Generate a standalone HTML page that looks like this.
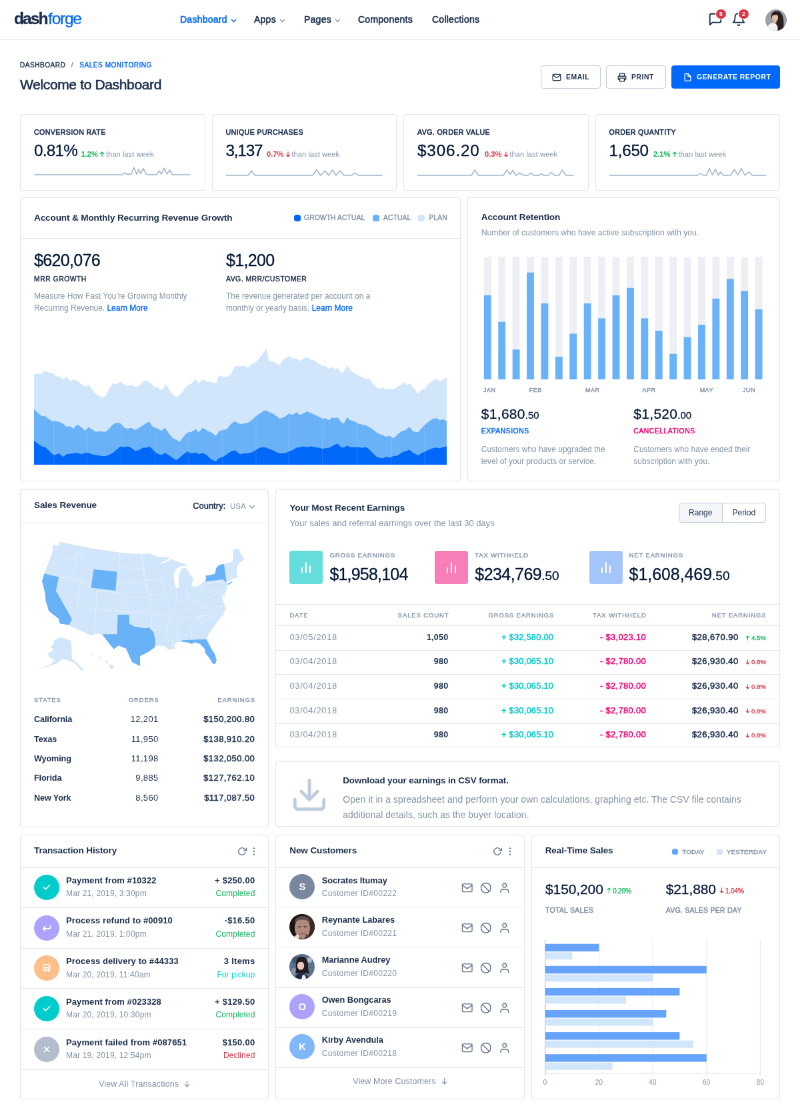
<!DOCTYPE html>
<html>
<head>
<meta charset="utf-8">
<title>DashForge</title>
<style>
*{box-sizing:border-box;margin:0;padding:0}
html,body{width:800px;height:1119px;overflow:hidden;background:#fff}
body{font-family:"Liberation Sans",sans-serif;color:#001737}
#wrap{position:absolute;left:0;top:0;width:1200px;height:1679px;transform:scale(0.666667);transform-origin:0 0;font-size:14px;will-change:transform;opacity:.9999}
.abs{position:absolute}
.card{position:absolute;background:#fff;border:1px solid rgba(72,94,144,.17);border-radius:4px}
.c2{color:#1b2e4b}.c3{color:#8392a5}
.b{font-weight:700}
.m{font-weight:400;-webkit-text-stroke:.45px currentColor}
.up{text-transform:uppercase}
.nw{white-space:nowrap}
.blue{color:#0168fa}.green{color:#10b759}.red{color:#dc3545}.teal{color:#00cccc}.pink{color:#f10075}
.hline{position:absolute;left:0;right:0;height:1px;background:rgba(72,94,144,.16)}
/* header */
#hdr{position:absolute;left:0;top:0;width:1200px;height:60px;border-bottom:1px solid rgba(72,94,144,.16);background:#fff}
#logo{position:absolute;left:21px;top:12px;font-size:24.5px;font-weight:700;letter-spacing:-1.9px;-webkit-text-stroke:.35px #1b2e4b;color:#1b2e4b;line-height:32px}
#logo span{font-weight:400;color:#0168fa;letter-spacing:-1.25px;margin-left:1.5px;-webkit-text-stroke:.3px #0168fa}
.nav{position:absolute;top:19px;font-size:14px;font-weight:400;-webkit-text-stroke:.55px currentColor;letter-spacing:.25px;color:#1b2e4b;line-height:20px;white-space:nowrap}
.nav svg{margin-left:5px;vertical-align:0}
/* stat cards */
.stat .lbl{position:absolute;left:20px;top:19px;font-size:10.6px;font-weight:400;-webkit-text-stroke:.6px currentColor;letter-spacing:.4px;color:#1b2e4b;line-height:14px;white-space:nowrap}
.stat .val{position:absolute;left:20px;top:39px;font-size:24.3px;-webkit-text-stroke:.3px #001737;line-height:30px;letter-spacing:-.9px;color:#001737;white-space:nowrap}
.stat .sub{position:absolute;top:51.5px;font-size:11.2px;line-height:14px;color:#8392a5;white-space:nowrap}
.stat .sub b{font-weight:700}
.stat svg.sp{position:absolute;left:20px;top:70.3px}
</style>
</head>
<body>
<div id="wrap">

<!-- HEADER -->
<div id="hdr">
  <div id="logo">dash<span>forge</span></div>
  <div class="nav" style="left:270px;color:#0168fa">Dashboard<svg width="9" height="6" viewBox="0 0 9 6"><path d="M1 1l3.5 3.5L8 1" fill="none" stroke="#0168fa" stroke-width="1.5"/></svg></div>
  <div class="nav" style="left:381px">Apps<svg width="9" height="6" viewBox="0 0 9 6"><path d="M1 1l3.5 3.5L8 1" fill="none" stroke="#8392a5" stroke-width="1.3"/></svg></div>
  <div class="nav" style="left:456px">Pages<svg width="9" height="6" viewBox="0 0 9 6"><path d="M1 1l3.5 3.5L8 1" fill="none" stroke="#8392a5" stroke-width="1.3"/></svg></div>
  <div class="nav" style="left:537px">Components</div>
  <div class="nav" style="left:648px">Collections</div>
  <!-- message icon -->
  <svg class="abs" style="left:1062px;top:18px" width="22" height="22" viewBox="0 0 24 24" fill="none" stroke="#1b2e4b" stroke-width="2" stroke-linecap="round" stroke-linejoin="round"><path d="M21 15a2 2 0 0 1-2 2H7l-4 4V5a2 2 0 0 1 2-2h14a2 2 0 0 1 2 2z"/></svg>
  <div class="abs" style="left:1074px;top:13.5px;width:14.5px;height:14.5px;border-radius:50%;background:#dc3545;box-shadow:0 0 0 1px #fff;color:#fff;font-size:8.5px;font-weight:700;text-align:center;line-height:14.5px">5</div>
  <!-- bell icon -->
  <svg class="abs" style="left:1097px;top:18px" width="22" height="22" viewBox="0 0 24 24" fill="none" stroke="#1b2e4b" stroke-width="2" stroke-linecap="round" stroke-linejoin="round"><path d="M18 8A6 6 0 0 0 6 8c0 7-3 9-3 9h18s-3-2-3-9"/><path d="M13.73 21a2 2 0 0 1-3.46 0"/></svg>
  <div class="abs" style="left:1108px;top:13.5px;width:14.5px;height:14.5px;border-radius:50%;background:#dc3545;box-shadow:0 0 0 1px #fff;color:#fff;font-size:8.5px;font-weight:700;text-align:center;line-height:14.5px">2</div>
  <!-- avatar -->
  <svg class="abs" style="left:1147.5px;top:13.5px" width="32" height="32" viewBox="0 0 32 32"><defs><clipPath id="avc"><circle cx="16" cy="16" r="16"/></clipPath></defs><g clip-path="url(#avc)"><rect width="32" height="32" fill="#9aa1ab"/><path d="M9 8c2-6 10-7 14-3 5 5 5 16 4 27H14c3-6 2-10-1-14-3-3-5-6-4-10z" fill="#2c1f1d"/><ellipse cx="14.500" cy="12.500" rx="4.600" ry="6" fill="#e6bda9"/><path d="M10 9c2-4 7-4 10-1-2 0-6 .5-10 1z" fill="#2c1f1d"/><path d="M2 32c0-7 4-11 9-12l5 2c3 3 3 7 2 10z" fill="#f3f1f1"/><rect x="12" y="17" width="4.500" height="4" fill="#e0b39e"/></g></svg>
</div>

<!-- PAGE TITLE -->
<div class="abs up nw" style="left:30px;top:91px;font-size:10px;letter-spacing:.55px;line-height:14px;font-weight:400;-webkit-text-stroke:.4px currentColor;color:#1b2e4b">Dashboard <span style="color:#8392a5;font-weight:400;margin:0 6px 0 5px">/</span> <span class="blue">Sales Monitoring</span></div>
<div class="abs nw" style="left:30px;top:114px;font-size:21px;font-weight:400;-webkit-text-stroke:.6px currentColor;letter-spacing:-.35px;line-height:26px;color:#1b2e4b">Welcome to Dashboard</div>


<!-- BUTTONS -->
<style>
.btn{position:absolute;top:98px;height:35px;border-radius:4px;font-size:10.4px;font-weight:700;letter-spacing:.55px;line-height:33px;white-space:nowrap;text-transform:uppercase}
.btn.w{border:1px solid #c0ccda;color:#1b2e4b;background:#fff}
.btn.p{background:#0168fa;color:#fff;border:1px solid #0168fa}
.btn svg{position:absolute;top:10px}
.btn span{position:absolute;top:0}
</style>
<div class="btn w" style="left:811px;width:90px"><svg style="left:16px" width="14" height="14" viewBox="0 0 24 24" fill="none" stroke="#1b2e4b" stroke-width="2.2" stroke-linecap="round" stroke-linejoin="round"><path d="M4 4h16c1.1 0 2 .9 2 2v12c0 1.1-.9 2-2 2H4c-1.100 0-2-.9-2-2V6c0-1.100.9-2 2-2z"/><polyline points="22,6 12,13 2,6"/></svg><span style="left:37px">Email</span></div>
<div class="btn w" style="left:909px;width:90px"><svg style="left:16px" width="14" height="14" viewBox="0 0 24 24" fill="none" stroke="#1b2e4b" stroke-width="2.2" stroke-linecap="round" stroke-linejoin="round"><polyline points="6 9 6 2 18 2 18 9"/><path d="M6 18H4a2 2 0 0 1-2-2v-5a2 2 0 0 1 2-2h16a2 2 0 0 1 2 2v5a2 2 0 0 1-2 2h-2"/><rect x="6" y="14" width="12" height="8"/></svg><span style="left:37px">Print</span></div>
<div class="btn p" style="left:1007px;width:163px"><svg style="left:17px" width="13" height="14" viewBox="0 0 24 24" fill="none" stroke="#fff" stroke-width="2.4" stroke-linecap="round" stroke-linejoin="round"><path d="M13 2H6a2 2 0 0 0-2 2v16a2 2 0 0 0 2 2h12a2 2 0 0 0 2-2V9z"/><polyline points="13 2 13 9 20 9"/></svg><span style="left:37px">Generate Report</span></div>


<!-- STAT CARDS -->
<div class="card stat" style="left:30px;top:171px;width:277.5px;height:115px">
  <div class="lbl up">Conversion Rate</div>
  <div class="val" style="letter-spacing:-.75px">0.81%</div>
  <div class="sub" style="left:90.5px"><b class="green">1.2%</b><svg width="8" height="9" viewBox="0 0 8 9" style="margin:0 2px 0 2px;vertical-align:-1px"><path d="M4 8.5V1M1 4l3-3 3 3" fill="none" stroke="#10b759" stroke-width="1.2"/></svg>than last week</div>
  <svg class="sp" width="238" height="26" viewBox="0 0 238 26"><polyline points="0.1,20.0 132.1,20.0 136.3,17.1 139.1,19.2 145.7,19.2 149.9,9.3 154.0,19.2 156.9,11.8 159.8,18.4 163.9,10.9 168.0,19.2 173.4,20.0 183.7,20.0 187.8,14.2 191.1,19.2 195.2,10.1 199.4,19.2 203.5,13.0 207.6,20.0 234.4,20.0" fill="none" stroke="#9db2c6" stroke-width="1.5" stroke-linejoin="round"/></svg>
</div>
<div class="card stat" style="left:317.5px;top:171px;width:277.5px;height:115px">
  <div class="lbl up">Unique Purchases</div>
  <div class="val" style="letter-spacing:-1.2px">3,137</div>
  <div class="sub" style="left:81.5px"><b class="red">0.7%</b><svg width="8" height="9" viewBox="0 0 8 9" style="margin:0 2px 0 2px;vertical-align:-1px"><path d="M4 .5V8M1 5l3 3 3-3" fill="none" stroke="#dc3545" stroke-width="1.2"/></svg>than last week</div>
  <svg class="sp" width="238" height="26" viewBox="0 0 238 26"><polyline points="0.0,21.0 33.0,21.0 38.2,14.3 43.5,21.0 129.8,21.0 135.8,12.8 141.8,21.0 148.5,14.3 153.8,21.0 159.8,12.8 165.0,21.0 171.0,14.3 177.0,21.0 188.2,21.0 193.5,17.3 198.8,21.0 234.8,21.0" fill="none" stroke="#9db2c6" stroke-width="1.5" stroke-linejoin="round"/></svg>
</div>
<div class="card stat" style="left:605px;top:171px;width:277.5px;height:115px">
  <div class="lbl up">Avg. Order Value</div>
  <div class="val" style="letter-spacing:.84px">$306.20</div>
  <div class="sub" style="left:121px"><b class="red">0.3%</b><svg width="8" height="9" viewBox="0 0 8 9" style="margin:0 2px 0 2px;vertical-align:-1px"><path d="M4 .5V8M1 5l3 3 3-3" fill="none" stroke="#dc3545" stroke-width="1.2"/></svg>than last week</div>
  <svg class="sp" width="238" height="26" viewBox="0 0 238 26"><polyline points="0.0,21.0 81.0,21.0 86.2,12.8 91.5,21.0 129.0,21.0 134.2,12.8 138.8,19.5 143.2,13.5 147.8,21.0 153.8,17.3 159.0,21.0 165.8,21.0 170.2,17.3 174.8,21.0 182.2,21.0 186.0,18.8 189.8,21.0 196.5,21.0 201.0,16.5 205.5,21.0 212.2,21.0 217.5,12.8 222.8,21.0 234.8,21.0" fill="none" stroke="#9db2c6" stroke-width="1.5" stroke-linejoin="round"/></svg>
</div>
<div class="card stat" style="left:892.5px;top:171px;width:277.5px;height:115px">
  <div class="lbl up">Order Quantity</div>
  <div class="val" style="letter-spacing:-.3px">1,650</div>
  <div class="sub" style="left:86.5px"><b class="green">2.1%</b><svg width="8" height="9" viewBox="0 0 8 9" style="margin:0 2px 0 2px;vertical-align:-1px"><path d="M4 8.5V1M1 4l3-3 3 3" fill="none" stroke="#10b759" stroke-width="1.2"/></svg>than last week</div>
  <svg class="sp" width="238" height="26" viewBox="0 0 238 26"><polyline points="0.0,21.0 132.0,21.0 136.5,18.0 141.0,21.0 145.5,21.0 150.0,10.5 154.5,20.3 159.0,12.0 163.5,21.0 166.5,15.8 171.0,21.0 181.5,21.0 187.5,12.0 192.8,20.3 198.0,10.5 203.2,21.0 209.2,15.8 214.5,21.0 235.5,21.0" fill="none" stroke="#9db2c6" stroke-width="1.5" stroke-linejoin="round"/></svg>
</div>

<!-- ROW 2 -->
<style>
.ch{position:absolute;left:0;right:0;top:0;border-bottom:1px solid rgba(72,94,144,.16)}
.ttl{position:absolute;left:20px;font-size:13.6px;font-weight:700;color:#1b2e4b;white-space:nowrap;line-height:20px;letter-spacing:-.15px}
.lg{position:absolute;font-size:10.3px;letter-spacing:.12px;color:#8392a5;text-transform:uppercase;white-space:nowrap;line-height:14px;-webkit-text-stroke:.4px #8392a5}
.dot{position:absolute;width:10px;height:10px;border-radius:3.5px}
.h3{position:absolute;font-size:25px;line-height:30px;color:#001737;white-space:nowrap;letter-spacing:-1px;-webkit-text-stroke:.3px #001737}
.cap{position:absolute;font-size:10.4px;letter-spacing:.5px;line-height:14px;text-transform:uppercase;white-space:nowrap;font-weight:400;-webkit-text-stroke:.45px currentColor}
.p12{position:absolute;font-size:11.95px;line-height:18px;color:#8392a5;white-space:nowrap}
</style>
<div class="card" style="left:30px;top:296px;width:660.8px;height:426px">
  <div class="ch" style="height:61px">
    <div class="ttl" style="top:20px">Account &amp; Monthly Recurring Revenue Growth</div>
    <div class="dot" style="left:410px;top:25px;background:#0168fa"></div><div class="lg" style="left:425px;top:23px">Growth Actual</div>
    <div class="dot" style="left:528px;top:25px;background:#69b2f8"></div><div class="lg" style="left:544px;top:23px">Actual</div>
    <div class="dot" style="left:596px;top:25px;background:#d1e6fa"></div><div class="lg" style="left:612.5px;top:23px">Plan</div>
  </div>
  <div class="h3" style="left:20px;top:78px;letter-spacing:-.65px">$620,076</div>
  <div class="cap c2" style="left:20px;top:115px">MRR Growth</div>
  <div class="p12" style="left:20px;top:138px">Measure How Fast You’re Growing Monthly<br>Recurring Revenue. <span class="blue" style="-webkit-text-stroke:.3px #0168fa">Learn More</span></div>
  <div class="h3" style="left:308px;top:78px;letter-spacing:-.65px">$1,200</div>
  <div class="cap c2" style="left:308px;top:115px">Avg. MRR/Customer</div>
  <div class="p12" style="left:308px;top:138px">The revenue generated per account on a<br>monthly or yearly basis. <span class="blue" style="-webkit-text-stroke:.3px #0168fa">Learn More</span></div>
  <div class="abs" style="left:0;top:152px;width:658.8px;height:260px;overflow:hidden"><svg class="abs" style="left:20px;top:60.6px" width="619.2" height="187.5" viewBox="0 0 412.8 125" preserveAspectRatio="none">
<path d="M0,125 L-0.1,33.6 L6.5,34.1 L11.2,30.7 L15.7,32.8 L19.6,33.3 L22.2,36.2 L26.2,36.7 L28.8,39.4 L32.7,36.7 L35.9,41.5 L39.3,39.4 L43.2,40.7 L47.2,44.1 L51.1,46.7 L54.3,44.6 L57.7,48.6 L61.6,53.8 L64.8,55.6 L68.2,57.7 L71.6,55.6 L74.7,49.9 L78.7,43.3 L82.6,44.1 L86.6,41.5 L90.5,44.6 L93.6,45.9 L97.0,44.6 L101.0,46.7 L104.9,45.9 L108.9,41.5 L112.8,40.7 L116.7,43.3 L120.7,47.2 L123.3,46.7 L126.4,49.9 L129.3,48.6 L132.0,44.1 L135.1,49.9 L139.0,55.1 L142.2,57.2 L145.6,55.1 L149.5,50.4 L153.5,45.1 L157.4,43.3 L161.9,38.8 L164.5,43.3 L168.7,39.4 L173.2,41.5 L177.1,42.0 L181.8,43.3 L185.0,35.4 L188.9,36.7 L192.9,36.7 L196.8,34.1 L200.7,26.2 L206.0,26.2 L209.9,25.7 L213.9,27.6 L217.8,23.6 L221.7,22.3 L225.7,17.1 L229.6,12.6 L232.2,8.4 L234.9,21.0 L238.8,21.5 L242.7,23.6 L245.9,24.9 L249.3,18.9 L251.9,18.4 L254.6,15.7 L258.5,18.4 L262.4,18.4 L265.8,21.0 L269.0,18.9 L272.9,17.1 L276.9,19.7 L280.8,20.5 L284.7,23.6 L288.7,26.2 L291.3,25.7 L295.2,28.9 L297.9,26.8 L301.0,29.4 L303.6,27.6 L307.0,32.8 L309.7,31.5 L313.1,25.7 L316.2,30.2 L320.2,32.8 L324.1,35.4 L328.0,36.7 L332.0,39.4 L334.6,38.1 L338.5,43.3 L342.5,47.2 L345.1,48.6 L349.0,47.8 L351.7,49.3 L355.6,48.6 L359.5,49.3 L363.5,46.7 L367.4,44.6 L370.0,42.0 L372.7,45.1 L375.3,43.3 L379.2,47.2 L384.0,53.8 L387.1,49.9 L391.0,48.6 L395.0,43.3 L398.9,40.7 L402.9,38.8 L405.5,42.0 L409.4,39.4 L412.8,37.3 L412.8,125 Z" fill="#d1e6fa"/>
<path d="M0,125 L-0.1,68.8 L3.9,73.0 L7.8,76.1 L10.4,75.6 L14.4,78.7 L18.3,81.4 L20.9,80.8 L24.9,81.9 L28.8,83.5 L32.7,86.6 L35.9,86.1 L39.3,88.7 L43.2,84.5 L47.2,87.1 L51.1,90.6 L54.3,87.1 L57.7,89.2 L61.6,91.9 L64.8,91.3 L68.2,91.3 L71.6,91.9 L74.7,89.2 L78.7,84.5 L82.6,82.7 L86.6,83.5 L90.5,87.9 L93.6,88.7 L97.0,87.9 L101.0,89.8 L104.9,87.9 L108.9,85.3 L112.8,82.7 L115.4,81.9 L118.0,86.1 L121.5,87.9 L124.6,89.2 L127.2,90.6 L131.2,87.9 L135.1,94.0 L139.0,98.4 L142.2,99.7 L145.6,101.8 L149.5,96.6 L153.5,92.4 L157.4,91.9 L161.9,89.2 L164.5,92.4 L168.7,87.9 L173.2,90.6 L177.1,92.4 L181.8,95.8 L185.0,91.3 L188.9,89.8 L192.9,89.2 L196.8,84.0 L200.7,81.4 L206.0,84.0 L209.9,83.5 L213.9,82.7 L217.8,80.1 L221.7,76.1 L225.7,73.5 L229.6,70.9 L232.2,70.3 L234.9,72.2 L238.8,73.5 L242.7,76.1 L245.9,78.7 L249.3,77.4 L251.9,76.1 L254.6,73.5 L258.5,74.8 L262.4,72.2 L265.8,74.8 L269.0,73.5 L272.9,71.4 L276.9,73.0 L280.8,74.8 L284.7,76.6 L288.7,78.7 L291.3,78.2 L295.2,80.1 L297.9,77.4 L301.0,78.2 L303.6,77.4 L307.0,81.9 L309.7,83.5 L313.1,77.4 L316.2,80.1 L320.2,81.4 L324.1,83.5 L328.0,84.5 L332.0,85.3 L334.6,86.6 L338.5,89.2 L342.5,92.4 L345.1,94.0 L349.0,95.0 L351.7,96.6 L355.6,95.8 L359.5,98.4 L363.5,94.5 L367.4,91.3 L370.0,90.6 L372.7,89.2 L375.3,86.6 L379.2,91.3 L384.0,92.4 L387.1,88.7 L391.0,84.5 L395.0,81.4 L398.9,78.7 L402.9,78.2 L405.5,80.1 L409.4,79.3 L412.8,81.4 L412.8,125 Z" fill="#69b2f8"/>
<path d="M0,125 L-0.1,100.5 L3.9,103.7 L7.8,106.3 L11.2,107.1 L14.4,110.2 L18.3,114.2 L20.9,115.0 L24.9,113.4 L28.8,116.8 L32.7,114.2 L39.3,113.4 L43.2,112.9 L47.2,114.2 L51.1,112.9 L54.3,112.9 L57.7,114.2 L61.6,115.0 L68.2,116.0 L71.6,116.0 L74.7,115.0 L78.7,112.9 L82.6,109.7 L86.6,106.3 L90.5,107.1 L93.6,106.3 L97.0,107.6 L101.0,110.8 L104.9,110.2 L108.9,107.6 L112.8,107.6 L115.4,106.3 L118.0,108.9 L121.5,112.3 L124.6,114.2 L127.2,115.0 L131.2,112.9 L135.1,115.5 L139.0,118.1 L142.2,120.2 L145.6,117.6 L149.5,114.2 L153.5,111.5 L157.4,113.4 L161.9,112.3 L164.5,114.2 L168.7,112.9 L173.2,115.5 L177.1,119.4 L181.8,121.3 L185.0,118.1 L188.9,116.8 L192.9,114.2 L196.8,111.5 L200.7,110.2 L206.0,114.2 L209.9,113.4 L213.9,113.4 L217.8,112.3 L221.7,110.2 L225.7,107.6 L229.6,107.1 L232.2,107.6 L234.9,108.9 L238.8,110.2 L242.7,112.3 L245.9,113.4 L249.3,113.4 L251.9,112.9 L254.6,111.5 L258.5,110.2 L262.4,107.6 L265.8,107.1 L269.0,106.3 L272.9,107.1 L276.9,106.3 L280.8,107.1 L284.7,107.6 L288.7,108.9 L291.3,108.1 L295.2,107.6 L297.9,106.3 L301.0,104.5 L303.6,103.7 L307.0,107.1 L309.7,107.6 L313.1,105.5 L316.2,107.1 L320.2,107.1 L324.1,107.1 L328.0,107.6 L332.0,107.1 L334.6,108.9 L338.5,112.9 L342.5,116.8 L345.1,117.6 L349.0,118.1 L351.7,116.8 L355.6,117.6 L359.5,116.0 L363.5,115.5 L367.4,112.9 L370.0,111.5 L372.7,110.8 L375.3,109.7 L379.2,112.9 L384.0,115.5 L387.1,113.4 L391.0,111.5 L395.0,109.7 L398.9,108.1 L402.9,107.6 L405.5,108.1 L409.4,107.1 L412.8,106.3 L412.8,125 Z" fill="#0168fa"/>
<g stroke="#fff" stroke-opacity=".18" stroke-width=".5"><path d="M20,0V125M52.8,0V125M87,0V125M121,0V125M154.5,0V125M188.5,0V125M222,0V125M254.5,0V125M288.5,0V125M323.5,0V125M357.5,0V125M390.5,0V125"/></g>
</svg></div>
</div>
<div class="card" style="left:700.8px;top:296px;width:469.2px;height:426px">
  <div class="ttl" style="top:19px">Account Retention</div>
  <div class="p12" style="left:20px;top:43px;font-size:12.17px">Number of customers who have active subscription with you.</div>
  <svg class="abs" style="left:-1px;top:88.3px" width="469.2" height="184.2" viewBox="0 0 312.8 122" preserveAspectRatio="none"><rect x="16.60" y="0" width="7.2" height="122" fill="#edeff4"/><rect x="16.60" y="38.3" width="7.2" height="83.7" fill="#69b2f8"/><rect x="30.87" y="0" width="7.2" height="122" fill="#edeff4"/><rect x="30.87" y="64.7" width="7.2" height="57.3" fill="#69b2f8"/><rect x="45.15" y="0" width="7.2" height="122" fill="#edeff4"/><rect x="45.15" y="92.2" width="7.2" height="29.8" fill="#69b2f8"/><rect x="59.42" y="0" width="7.2" height="122" fill="#edeff4"/><rect x="59.42" y="15.7" width="7.2" height="106.3" fill="#69b2f8"/><rect x="73.70" y="0" width="7.2" height="122" fill="#edeff4"/><rect x="73.70" y="46.4" width="7.2" height="75.6" fill="#69b2f8"/><rect x="87.97" y="0" width="7.2" height="122" fill="#edeff4"/><rect x="87.97" y="99.4" width="7.2" height="22.6" fill="#69b2f8"/><rect x="102.24" y="0" width="7.2" height="122" fill="#edeff4"/><rect x="102.24" y="76.5" width="7.2" height="45.5" fill="#69b2f8"/><rect x="116.52" y="0" width="7.2" height="122" fill="#edeff4"/><rect x="116.52" y="46.4" width="7.2" height="75.6" fill="#69b2f8"/><rect x="130.79" y="0" width="7.2" height="122" fill="#edeff4"/><rect x="130.79" y="61.2" width="7.2" height="60.8" fill="#69b2f8"/><rect x="145.07" y="0" width="7.2" height="122" fill="#edeff4"/><rect x="145.07" y="38.3" width="7.2" height="83.7" fill="#69b2f8"/><rect x="159.34" y="0" width="7.2" height="122" fill="#edeff4"/><rect x="159.34" y="31.0" width="7.2" height="91.0" fill="#69b2f8"/><rect x="173.61" y="0" width="7.2" height="122" fill="#edeff4"/><rect x="173.61" y="61.2" width="7.2" height="60.8" fill="#69b2f8"/><rect x="187.89" y="0" width="7.2" height="122" fill="#edeff4"/><rect x="187.89" y="73.6" width="7.2" height="48.4" fill="#69b2f8"/><rect x="202.16" y="0" width="7.2" height="122" fill="#edeff4"/><rect x="202.16" y="96.5" width="7.2" height="25.5" fill="#69b2f8"/><rect x="216.44" y="0" width="7.2" height="122" fill="#edeff4"/><rect x="216.44" y="79.9" width="7.2" height="42.1" fill="#69b2f8"/><rect x="230.71" y="0" width="7.2" height="122" fill="#edeff4"/><rect x="230.71" y="67.6" width="7.2" height="54.4" fill="#69b2f8"/><rect x="244.98" y="0" width="7.2" height="122" fill="#edeff4"/><rect x="244.98" y="41.6" width="7.2" height="80.4" fill="#69b2f8"/><rect x="259.26" y="0" width="7.2" height="122" fill="#edeff4"/><rect x="259.26" y="22.1" width="7.2" height="99.9" fill="#69b2f8"/><rect x="273.53" y="0" width="7.2" height="122" fill="#edeff4"/><rect x="273.53" y="34.0" width="7.2" height="88.0" fill="#69b2f8"/><rect x="287.81" y="0" width="7.2" height="122" fill="#edeff4"/><rect x="287.81" y="52.3" width="7.2" height="69.7" fill="#69b2f8"/></svg>
  <div class="abs nw" style="left:2.5px;width:60px;text-align:center;top:281.2px;font-size:9px;letter-spacing:.5px;color:#8392a5;line-height:14px;-webkit-text-stroke:.4px #8392a5">JAN</div><div class="abs nw" style="left:71.5px;width:60px;text-align:center;top:281.2px;font-size:9px;letter-spacing:.5px;color:#8392a5;line-height:14px;-webkit-text-stroke:.4px #8392a5">FEB</div><div class="abs nw" style="left:157.0px;width:60px;text-align:center;top:281.2px;font-size:9px;letter-spacing:.5px;color:#8392a5;line-height:14px;-webkit-text-stroke:.4px #8392a5">MAR</div><div class="abs nw" style="left:241.7px;width:60px;text-align:center;top:281.2px;font-size:9px;letter-spacing:.5px;color:#8392a5;line-height:14px;-webkit-text-stroke:.4px #8392a5">APR</div><div class="abs nw" style="left:328.0px;width:60px;text-align:center;top:281.2px;font-size:9px;letter-spacing:.5px;color:#8392a5;line-height:14px;-webkit-text-stroke:.4px #8392a5">MAY</div><div class="abs nw" style="left:391.7px;width:60px;text-align:center;top:281.2px;font-size:9px;letter-spacing:.5px;color:#8392a5;line-height:14px;-webkit-text-stroke:.4px #8392a5">JUN</div>
  <div class="h3" style="left:20px;top:309px;font-size:21px;letter-spacing:.3px">$1,680<span style="font-size:15px;letter-spacing:0">.50</span></div>
  <div class="cap blue" style="left:20px;top:343px">Expansions</div>
  <div class="p12" style="left:20px;top:368px">Customers who have upgraded the<br>level of your products or service.</div>
  <div class="h3" style="left:248.5px;top:309px;font-size:21px;letter-spacing:.3px">$1,520<span style="font-size:15px;letter-spacing:0">.00</span></div>
  <div class="cap pink" style="left:248.5px;top:343px">Cancellations</div>
  <div class="p12" style="left:248.5px;top:368px">Customers who have ended their<br>subscription with you.</div>
</div>


<!-- ROW 3 -->
<style>
.th{position:absolute;font-size:9.4px;letter-spacing:.95px;color:#8392a5;text-transform:uppercase;white-space:nowrap;line-height:14px;-webkit-text-stroke:.35px #8392a5}
</style>
<div class="card" style="left:30px;top:733.5px;width:373.3px;height:507px;overflow:hidden">
  <div class="ch" style="height:50px">
    <div class="ttl" style="top:13.5px">Sales Revenue</div>
    <div class="abs nw c2 m" style="right:64px;top:14.5px;font-size:12.8px;line-height:20px;letter-spacing:.1px">Country:</div><div class="abs nw c3" style="left:314px;top:14.5px;font-size:11.6px;line-height:20px">USA</div>
    <svg class="abs" style="right:19px;top:22px" width="10" height="7" viewBox="0 0 10 7"><path d="M1 1l4 4 4-4" fill="none" stroke="#8392a5" stroke-width="1.3"/></svg>
  </div>
  <svg class="abs" style="left:14.0px;top:60.5px" width="345" height="225" viewBox="30 530 230 150"><path d="M52.5,543.5 L53.7,545.0 L58.8,545.6 L59.7,541.7 L78.0,545.7 L99.0,549.5 L120.0,552.5 L139.9,554.0 L140.0,554.0 L148.7,553.7 L149.3,552.2 L150.2,553.7 L153.8,555.2 L156.9,556.2 L162.5,557.5 L165.6,557.2 L170.0,557.0 L166.2,560.0 L162.5,561.9 L159.0,564.0 L161.9,563.5 L166.2,561.9 L170.6,560.0 L172.2,558.8 L175.0,560.6 L179.4,562.5 L183.1,563.5 L185.6,564.0 L187.5,565.0 L185.0,565.8 L181.9,566.0 L179.4,566.9 L177.5,567.9 L175.6,569.5 L174.5,571.9 L173.8,575.0 L174.0,580.0 L174.8,583.8 L176.5,588.1 L178.5,587.5 L179.4,586.2 L178.5,581.2 L178.8,576.2 L180.0,571.9 L181.9,568.8 L184.0,567.5 L186.2,568.5 L188.1,570.6 L189.8,574.0 L190.0,576.2 L191.5,575.0 L193.1,577.8 L192.9,581.2 L191.2,584.4 L191.9,585.6 L194.4,586.9 L196.9,586.5 L200.0,584.8 L202.5,582.5 L205.0,581.2 L206.2,578.1 L205.6,575.6 L211.2,574.8 L215.0,573.5 L216.2,568.1 L218.8,565.0 L223.8,563.8 L230.0,562.5 L232.5,561.2 L233.5,550.0 L236.2,548.5 L239.0,549.0 L240.6,553.8 L244.4,558.1 L242.5,560.6 L239.4,562.5 L237.5,565.6 L236.2,569.4 L237.5,571.9 L236.2,575.0 L238.8,576.2 L235.0,577.8 L231.2,579.4 L228.1,581.0 L226.5,582.2 L227.2,586.2 L226.5,590.0 L225.0,593.1 L224.4,597.5 L222.2,593.0 L222.8,600.5 L224.0,603.5 L225.8,608.7 L223.2,614.0 L218.7,620.0 L214.2,626.0 L209.0,633.5 L206.7,638.0 L211.2,648.5 L215.0,654.5 L216.5,660.5 L215.0,664.2 L212.7,663.5 L209.0,657.5 L205.2,653.0 L204.5,648.5 L200.0,644.0 L194.7,642.2 L191.7,644.0 L188.0,642.5 L182.0,641.7 L176.0,642.5 L173.7,645.5 L176.0,649.2 L172.2,648.5 L168.5,650.0 L164.7,646.2 L155.7,645.5 L155.0,647.0 L149.0,651.5 L140.0,656.0 L139.9,657.5 L140.2,665.7 L139.5,665.7 L132.0,662.0 L126.0,648.5 L118.5,645.5 L114.0,649.2 L109.5,644.0 L102.0,634.2 L94.5,633.5 L94.5,635.0 L90.0,635.0 L70.5,626.0 L69.0,624.8 L60.0,623.7 L58.5,618.5 L52.5,614.0 L48.7,611.0 L45.7,600.5 L45.0,593.0 L43.5,587.0 L42.0,581.0 L44.2,573.5 L45.0,571.2 L49.5,560.0 L52.5,552.5Z" fill="#d1e6fa"/><path d="M54.0,640.2 L60.7,637.2 L71.2,641.0 L72.0,659.0 L76.5,662.0 L84.0,670.2 L81.7,671.0 L75.0,663.5 L69.0,660.5 L62.2,659.0 L57.0,663.5 L45.0,667.2 L39.0,668.7 L51.0,664.2 L54.7,660.5 L48.7,656.7 L48.0,653.0 L54.0,650.0 L50.2,646.2 L54.0,644.0Z" fill="#d1e6fa"/><path d="M91.5,653.7 L93.0,653.7 L93.0,655.2 L91.5,655.2Z" fill="#d1e6fa"/><path d="M98.2,656.7 L100.5,657.2 L100.2,658.7 L98.4,658.4Z" fill="#d1e6fa"/><path d="M105.0,660.2 L107.7,660.8 L108.0,662.6 L105.6,662.3Z" fill="#d1e6fa"/><path d="M109.5,664.2 L112.5,665.0 L114.0,667.7 L111.7,669.5 L109.5,667.2Z" fill="#d1e6fa"/><path d="M53.7,557.0 L64.5,559.2 L75.0,558.5 M78.0,545.7 L75.0,558.5 L75.7,565.2 L70.5,578.0 M45.0,571.2 L70.5,578.0 L91.5,581.7 M80.2,546.5 L82.5,560.0 L87.0,569.7 L93.7,570.5 M91.5,581.7 L90.7,587.7 M58.8,577.2 L80.2,581.7 L77.2,606.5 M80.2,581.7 L91.0,587.7 M96.7,590.7 L94.5,635.0 M77.2,606.5 L72.0,619.2 M77.2,606.5 L123.0,612.2 M96.7,590.7 L123.0,593.0 L122.2,611.7 M120.0,552.5 L118.5,567.5 L117.0,571.7 M118.5,567.5 L144.0,568.7 M117.0,581.7 L135.0,582.5 L144.0,584.0 L148.5,590.0 L150.0,596.7 M123.0,597.2 L148.5,597.8 M122.2,611.7 L150.0,612.5 M141.7,554.0 L144.0,568.7 L145.5,581.7 M141.5,554.0 L144.2,579.5 L146.0,581.7 M144.2,579.5 L162.5,580.2 M146.0,581.7 L147.5,594.5 L151.2,596.7 M147.5,594.5 L162.5,594.5 M150.5,596.7 L151.2,614.7 L152.0,628.2 M151.2,614.7 L170.0,613.7 M152.0,628.2 L153.5,632.0 M153.5,630.2 L167.0,629.7 M155.7,566.0 L157.2,573.5 L162.5,580.2 L164.7,587.0 L162.5,594.5 L167.7,605.0 L171.5,611.7 L170.0,613.7 L168.5,620.0 L167.0,629.7 L164.7,638.0 L172.2,639.5 L172.2,648.5 M164.7,587.0 L176.0,587.7 M176.7,587.7 L176.0,605.0 L171.5,611.7 M186.8,585.8 L187.7,599.7 L176.0,605.0 M187.7,599.7 L197.0,602.7 L203.0,596.0 L202.2,584.7 M171.5,611.7 L200.0,608.0 L225.5,605.7 M170.0,620.0 L200.0,616.2 L224.0,611.7 M177.5,620.0 L178.2,641.0 M188.3,619.2 L191.7,635.0 L191.7,641.7 M197.0,617.7 L206.7,629.0 L209.0,633.5 M197.0,617.7 L206.0,615.5 L218.7,620.0 M202.2,584.7 L224.0,581.0 M203.0,593.0 L223.2,590.0 L226.2,587.0 M200.0,608.0 L206.0,602.0 L212.0,594.5 L221.7,593.0 M228.1,562.9 L228.8,573.1 M232.5,561.2 L234.0,567.5 L236.2,569.4 M224.8,573.1 L236.9,571.9 M225.4,577.2 L235.0,577.8 M231.0,574.4 L231.2,579.4" fill="none" stroke="#fff" stroke-width=".4" stroke-opacity=".6"/><path d="M44.2,573.5 L58.8,577.2 L55.8,590.7 L72.0,619.2 L69.0,624.8 L60.0,623.7 L58.5,618.5 L52.5,614.0 L48.7,611.0 L45.7,600.5 L45.0,593.0 L43.5,587.0 L42.0,581.0Z" fill="#69b2f8"/><path d="M93.7,569.3 L117.0,571.7 L115.5,590.7 L91.0,587.7Z" fill="#69b2f8"/><path d="M117.7,614.7 L129.0,614.7 L129.3,623.7 L135.0,626.7 L144.0,628.2 L150.0,627.5 L149.7,628.2 L153.5,632.0 L155.4,641.0 L155.0,647.0 L149.0,651.5 L140.0,656.0 L139.9,657.5 L140.2,665.7 L139.5,665.7 L132.0,662.0 L126.0,648.5 L118.5,645.5 L114.0,649.2 L109.5,644.0 L102.0,634.2 L117.0,634.2Z" fill="#69b2f8"/><path d="M182.0,640.2 L206.0,639.2 L211.2,648.5 L215.0,654.5 L216.5,660.5 L215.0,664.2 L212.7,663.5 L209.0,657.5 L205.2,653.0 L204.5,648.5 L200.0,644.0 L194.7,642.2 L191.7,644.0 L188.0,642.5 L182.0,641.7Z" fill="#69b2f8"/><path d="M205.0,581.5 L206.2,578.1 L205.6,575.6 L211.2,574.8 L215.0,573.5 L216.2,568.1 L218.8,565.0 L223.8,563.8 L224.8,570.0 L225.6,576.2 L226.5,582.2 L225.0,581.2 L223.1,579.4Z" fill="#69b2f8"/><path d="M226.9,584.0 L231.9,581.5 L232.5,582.1 L228.1,584.9Z" fill="#69b2f8"/></svg>
  <div class="th" style="left:20px;top:308.5px">States</div>
  <div class="th" style="right:163.7px;top:308.5px">Orders</div>
  <div class="th" style="right:19.4px;top:308.5px">Earnings</div>
  <div class="abs nw b c2" style="left:20px;top:334.2px;font-size:12.6px;line-height:20px;letter-spacing:-.1px">California</div><div class="abs nw c2" style="right:164.7px;top:334.2px;font-size:13px;line-height:20px;letter-spacing:.35px">12,201</div><div class="abs nw c2 m" style="right:20.1px;top:334.2px;font-size:13px;line-height:20px;letter-spacing:.43px">$150,200.80</div><div class="abs nw b c2" style="left:20px;top:364.0px;font-size:12.6px;line-height:20px;letter-spacing:-.1px">Texas</div><div class="abs nw c2" style="right:164.7px;top:364.0px;font-size:13px;line-height:20px;letter-spacing:.35px">11,950</div><div class="abs nw c2 m" style="right:20.1px;top:364.0px;font-size:13px;line-height:20px;letter-spacing:.43px">$138,910.20</div><div class="abs nw b c2" style="left:20px;top:393.7px;font-size:12.6px;line-height:20px;letter-spacing:-.1px">Wyoming</div><div class="abs nw c2" style="right:164.7px;top:393.7px;font-size:13px;line-height:20px;letter-spacing:.35px">11,198</div><div class="abs nw c2 m" style="right:20.1px;top:393.7px;font-size:13px;line-height:20px;letter-spacing:.43px">$132,050.00</div><div class="abs nw b c2" style="left:20px;top:422.9px;font-size:12.6px;line-height:20px;letter-spacing:-.1px">Florida</div><div class="abs nw c2" style="right:164.7px;top:422.9px;font-size:13px;line-height:20px;letter-spacing:.35px">9,885</div><div class="abs nw c2 m" style="right:20.1px;top:422.9px;font-size:13px;line-height:20px;letter-spacing:.43px">$127,762.10</div><div class="abs nw b c2" style="left:20px;top:452.7px;font-size:12.6px;line-height:20px;letter-spacing:-.1px">New York</div><div class="abs nw c2" style="right:164.7px;top:452.7px;font-size:13px;line-height:20px;letter-spacing:.35px">8,560</div><div class="abs nw c2 m" style="right:20.1px;top:452.7px;font-size:13px;line-height:20px;letter-spacing:.43px">$117,087.50</div>
</div>

<div class="card" style="left:413.3px;top:733.5px;width:756.7px;height:387.5px;overflow:hidden">
  <div class="ttl" style="left:20.1px;top:17.2px">Your Most Recent Earnings</div>
  <div class="p12" style="left:20.1px;top:41.2px;font-size:13px">Your sales and referral earnings over the last 30 days</div>
  <div class="abs" style="left:603.4px;top:19.0px;width:131.2px;height:30.7px;border:1px solid #c0ccda;border-radius:4px;overflow:hidden;font-size:12px;color:#1b2e4b;line-height:28.7px">
    <div class="abs" style="left:0;top:0;bottom:0;width:65.2px;background:#f5f6fa;border-right:1px solid #c0ccda;text-align:center">Range</div>
    <div class="abs" style="left:65.2px;top:0;bottom:0;right:0;text-align:center">Period</div>
  </div>
  <div class="abs" style="left:20.1px;top:91.1px;width:50px;height:50px;border-radius:4px;background:#66dddd"><svg style="position:absolute;left:16px;top:15px" width="18" height="20" viewBox="0 0 18 20"><path d="M3 17.500V11M9 17.500V3M15 17.500V8" fill="none" stroke="#fff" stroke-width="2" stroke-linecap="round"/></svg></div>
  <div class="th" style="left:80.1px;top:91.4px;font-size:9.6px;letter-spacing:.8px;-webkit-text-stroke:.4px #8392a5">Gross Earnings</div>
  <div class="h3" style="left:80.1px;top:111.8px;letter-spacing:-.8px">$1,958,104</div>
  <div class="abs" style="left:238.0px;top:91.1px;width:50px;height:50px;border-radius:4px;background:#f77eb9"><svg style="position:absolute;left:16px;top:15px" width="18" height="20" viewBox="0 0 18 20"><path d="M3 17.500V11M9 17.500V3M15 17.500V8" fill="none" stroke="#fff" stroke-width="2" stroke-linecap="round"/></svg></div>
  <div class="th" style="left:298.0px;top:91.4px;font-size:9.6px;letter-spacing:.8px;-webkit-text-stroke:.4px #8392a5">Tax Withheld</div>
  <div class="h3" style="left:298.0px;top:111.8px;letter-spacing:-.55px">$234,769<span style="font-size:19px;letter-spacing:0">.50</span></div>
  <div class="abs" style="left:469.3px;top:91.1px;width:50px;height:50px;border-radius:4px;background:#a4c5fa"><svg style="position:absolute;left:16px;top:15px" width="18" height="20" viewBox="0 0 18 20"><path d="M3 17.500V11M9 17.500V3M15 17.500V8" fill="none" stroke="#fff" stroke-width="2" stroke-linecap="round"/></svg></div>
  <div class="th" style="left:529.3px;top:91.4px;font-size:9.6px;letter-spacing:.8px;-webkit-text-stroke:.4px #8392a5">Net Earnings</div>
  <div class="h3" style="left:529.3px;top:111.8px;letter-spacing:-.07px">$1,608,469<span style="font-size:19px;letter-spacing:0">.50</span></div>
  <div class="hline" style="top:171.2px"></div><div class="hline" style="top:203.8px"></div><div class="hline" style="top:240.3px"></div><div class="hline" style="top:276.9px"></div><div class="hline" style="top:313.5px"></div><div class="hline" style="top:350.1px"></div>
  <div class="th" style="left:20.1px;top:181.8px">Date</div>
  <div class="th" style="right:495.6px;top:181.8px">Sales Count</div>
  <div class="th" style="right:337.8px;top:181.8px">Gross Earnings</div>
  <div class="th" style="right:199.3px;top:181.8px">Tax Withheld</div>
  <div class="th" style="right:19.5px;top:181.8px">Net Earnings</div>
  <div class="abs nw c3" style="left:20.1px;top:211.9px;font-size:13px;line-height:20px;letter-spacing:.65px">03/05/2018</div>
<div class="abs nw b c2" style="right:496.6px;top:211.9px;font-size:12.6px;line-height:20px;letter-spacing:.2px">1,050</div>
<div class="abs nw m" style="right:338.8px;top:211.9px;font-size:13px;line-height:20px;letter-spacing:.16px;color:#00cccc">+ $32,580.00</div>
<div class="abs nw m" style="right:200.0px;top:211.9px;font-size:13px;line-height:20px;letter-spacing:.3px;color:#f10075">- $3,023.10</div>
<div class="abs nw m c2" style="-webkit-text-stroke:.55px #1b2e4b;right:61.4px;top:211.9px;font-size:13px;line-height:20px;letter-spacing:.46px">$28,670.90</div>
<div class="abs nw" style="right:20.2px;top:212.9px;font-size:9.6px;line-height:20px;color:#10b759;-webkit-text-stroke:.3px #10b759"><svg width="7" height="8" viewBox="0 0 7 8" style="margin-right:2px;vertical-align:-.5px"><path d="M3.500 7.500V1M1 3.500l2.500-2.500 2.500 2.500" fill="none" stroke="#10b759" stroke-width="1.1"/></svg>4.5%</div>
<div class="abs nw c3" style="left:20.1px;top:247.9px;font-size:13px;line-height:20px;letter-spacing:.65px">03/04/2018</div>
<div class="abs nw b c2" style="right:496.6px;top:247.9px;font-size:12.6px;line-height:20px;letter-spacing:.2px">980</div>
<div class="abs nw m" style="right:338.8px;top:247.9px;font-size:13px;line-height:20px;letter-spacing:.16px;color:#00cccc">+ $30,065.10</div>
<div class="abs nw m" style="right:200.0px;top:247.9px;font-size:13px;line-height:20px;letter-spacing:.3px;color:#f10075">- $2,780.00</div>
<div class="abs nw m c2" style="-webkit-text-stroke:.55px #1b2e4b;right:61.4px;top:247.9px;font-size:13px;line-height:20px;letter-spacing:.46px">$26,930.40</div>
<div class="abs nw" style="right:20.2px;top:248.9px;font-size:9.6px;line-height:20px;color:#dc3545;-webkit-text-stroke:.3px #dc3545"><svg width="7" height="8" viewBox="0 0 7 8" style="margin-right:2px;vertical-align:-.5px"><path d="M3.500 .5V7M1 4.500l2.500 2.500 2.500-2.500" fill="none" stroke="#dc3545" stroke-width="1.1"/></svg>0.8%</div>
<div class="abs nw c3" style="left:20.1px;top:284.5px;font-size:13px;line-height:20px;letter-spacing:.65px">03/04/2018</div>
<div class="abs nw b c2" style="right:496.6px;top:284.5px;font-size:12.6px;line-height:20px;letter-spacing:.2px">980</div>
<div class="abs nw m" style="right:338.8px;top:284.5px;font-size:13px;line-height:20px;letter-spacing:.16px;color:#00cccc">+ $30,065.10</div>
<div class="abs nw m" style="right:200.0px;top:284.5px;font-size:13px;line-height:20px;letter-spacing:.3px;color:#f10075">- $2,780.00</div>
<div class="abs nw m c2" style="-webkit-text-stroke:.55px #1b2e4b;right:61.4px;top:284.5px;font-size:13px;line-height:20px;letter-spacing:.46px">$26,930.40</div>
<div class="abs nw" style="right:20.2px;top:285.5px;font-size:9.6px;line-height:20px;color:#dc3545;-webkit-text-stroke:.3px #dc3545"><svg width="7" height="8" viewBox="0 0 7 8" style="margin-right:2px;vertical-align:-.5px"><path d="M3.500 .5V7M1 4.500l2.500 2.500 2.500-2.500" fill="none" stroke="#dc3545" stroke-width="1.1"/></svg>0.8%</div>
<div class="abs nw c3" style="left:20.1px;top:321.1px;font-size:13px;line-height:20px;letter-spacing:.65px">03/04/2018</div>
<div class="abs nw b c2" style="right:496.6px;top:321.1px;font-size:12.6px;line-height:20px;letter-spacing:.2px">980</div>
<div class="abs nw m" style="right:338.8px;top:321.1px;font-size:13px;line-height:20px;letter-spacing:.16px;color:#00cccc">+ $30,065.10</div>
<div class="abs nw m" style="right:200.0px;top:321.1px;font-size:13px;line-height:20px;letter-spacing:.3px;color:#f10075">- $2,780.00</div>
<div class="abs nw m c2" style="-webkit-text-stroke:.55px #1b2e4b;right:61.4px;top:321.1px;font-size:13px;line-height:20px;letter-spacing:.46px">$26,930.40</div>
<div class="abs nw" style="right:20.2px;top:322.1px;font-size:9.6px;line-height:20px;color:#dc3545;-webkit-text-stroke:.3px #dc3545"><svg width="7" height="8" viewBox="0 0 7 8" style="margin-right:2px;vertical-align:-.5px"><path d="M3.500 .5V7M1 4.500l2.500 2.500 2.500-2.500" fill="none" stroke="#dc3545" stroke-width="1.1"/></svg>0.8%</div>
<div class="abs nw c3" style="left:20.1px;top:357.6px;font-size:13px;line-height:20px;letter-spacing:.65px">03/04/2018</div>
<div class="abs nw b c2" style="right:496.6px;top:357.6px;font-size:12.6px;line-height:20px;letter-spacing:.2px">980</div>
<div class="abs nw m" style="right:338.8px;top:357.6px;font-size:13px;line-height:20px;letter-spacing:.16px;color:#00cccc">+ $30,065.10</div>
<div class="abs nw m" style="right:200.0px;top:357.6px;font-size:13px;line-height:20px;letter-spacing:.3px;color:#f10075">- $2,780.00</div>
<div class="abs nw m c2" style="-webkit-text-stroke:.55px #1b2e4b;right:61.4px;top:357.6px;font-size:13px;line-height:20px;letter-spacing:.46px">$26,930.40</div>
<div class="abs nw" style="right:20.2px;top:358.6px;font-size:9.6px;line-height:20px;color:#dc3545;-webkit-text-stroke:.3px #dc3545"><svg width="7" height="8" viewBox="0 0 7 8" style="margin-right:2px;vertical-align:-.5px"><path d="M3.500 .5V7M1 4.500l2.500 2.500 2.500-2.500" fill="none" stroke="#dc3545" stroke-width="1.1"/></svg>0.8%</div>

</div>
<div class="card" style="left:413.3px;top:1142.2px;width:756.7px;height:98.3px">
  <svg class="abs" style="left:20.7px;top:20.2px" width="58" height="58" viewBox="0 0 24 24" fill="none" stroke="#bfccdc" stroke-width="2" stroke-linecap="round" stroke-linejoin="round"><path d="M21 15v4a2 2 0 0 1-2 2H5a2 2 0 0 1-2-2v-4"/><polyline points="7 10 12 15 17 10"/><line x1="12" y1="15" x2="12" y2="3"/></svg>
  <div class="abs nw b c2" style="left:100.0px;top:17.5px;font-size:13.4px;line-height:20px;letter-spacing:-.1px">Download your earnings in CSV format.</div>
  <div class="abs nw c3" style="left:100.0px;top:45.3px;font-size:13.8px;line-height:23px;letter-spacing:.1px">Open it in a spreadsheet and perform your own calculations, graphing etc. The CSV file contains<br>additional details, such as the buyer location.</div>
</div>


<!-- ROW 4 -->
<div class="card" style="left:30px;top:1251.9px;width:373.3px;height:396.8px;overflow:hidden">
  <div class="ch" style="height:49px"><div class="ttl" style="top:13.5px">Transaction History</div><svg class="abs" style="left:324.7px;top:17px" width="14" height="14" viewBox="0 0 24 24" fill="none" stroke="#70819a" stroke-width="2.7" stroke-linecap="round" stroke-linejoin="round"><polyline points="23 4 23 10 17 10"/><path d="M20.490 15a9 9 0 1 1-2.120-9.360L23 10"/></svg><svg class="abs" style="left:348.35px;top:17px" width="4" height="14" viewBox="0 0 4 14"><circle cx="2" cy="2.500" r="1.350" fill="#70819a"/><circle cx="2" cy="7" r="1.350" fill="#70819a"/><circle cx="2" cy="11.500" r="1.350" fill="#70819a"/></svg></div>
  <div class="abs" style="left:19.8px;top:58.9px;width:38px;height:38px;border-radius:50%;background:#00cccc"><svg style="position:absolute;left:12px;top:12px" width="14" height="14" viewBox="0 0 24 24" fill="none" stroke="#fff" stroke-width="3" stroke-linecap="round" stroke-linejoin="round"><polyline points="20 6 9 17 4 12"/></svg></div>
<div class="abs nw b c2" style="left:68.0px;top:57.7px;font-size:13px;line-height:20px;letter-spacing:.1px">Payment from #10322</div>
<div class="abs nw c3" style="left:68.0px;top:77.2px;font-size:12px;line-height:20px;letter-spacing:.17px">Mar 21, 2019, 3:30pm</div>
<div class="abs nw b c2" style="right:19.9px;top:57.7px;font-size:13px;line-height:20px;letter-spacing:.25px">+ $250.00</div>
<div class="abs nw" style="right:19.9px;top:77.2px;font-size:12px;line-height:20px;letter-spacing:.1px;color:#10b759">Completed</div>
<div class="hline" style="top:108.0px"></div><div class="abs" style="left:19.8px;top:119.7px;width:38px;height:38px;border-radius:50%;background:#ada3fd"><svg style="position:absolute;left:12px;top:12px" width="14" height="14" viewBox="0 0 24 24" fill="none" stroke="#fff" stroke-width="3" stroke-linecap="round" stroke-linejoin="round"><polyline points="8 8.500 3 13.500 8 18.500"/><path d="M21 7v4.500a2 2 0 0 1-2 2H3"/></svg></div>
<div class="abs nw b c2" style="left:68.0px;top:118.4px;font-size:13px;line-height:20px;letter-spacing:.1px">Process refund to #00910</div>
<div class="abs nw c3" style="left:68.0px;top:137.9px;font-size:12px;line-height:20px;letter-spacing:.17px">Mar 21, 2019, 1:00pm</div>
<div class="abs nw b c2" style="right:19.9px;top:118.4px;font-size:13px;line-height:20px;letter-spacing:.25px">-$16.50</div>
<div class="abs nw" style="right:19.9px;top:137.9px;font-size:12px;line-height:20px;letter-spacing:.1px;color:#10b759">Completed</div>
<div class="hline" style="top:168.8px"></div><div class="abs" style="left:19.8px;top:180.4px;width:38px;height:38px;border-radius:50%;background:#febe89"><svg style="position:absolute;left:12px;top:12px" width="14" height="14" viewBox="0 0 24 24" fill="none" stroke="#fff" stroke-width="2.6" stroke-linecap="round" stroke-linejoin="round"><rect x="4" y="3" width="16" height="15" rx="3"/><path d="M4 11h16M7 18v3M17 18v3"/><circle cx="8.500" cy="14.500" r=".8"/><circle cx="15.500" cy="14.500" r=".8"/></svg></div>
<div class="abs nw b c2" style="left:68.0px;top:179.2px;font-size:13px;line-height:20px;letter-spacing:.1px">Process delivery to #44333</div>
<div class="abs nw c3" style="left:68.0px;top:198.7px;font-size:12px;line-height:20px;letter-spacing:.17px">Mar 20, 2019, 11:40am</div>
<div class="abs nw b c2" style="right:19.9px;top:179.2px;font-size:13px;line-height:20px;letter-spacing:.25px">3 Items</div>
<div class="abs nw" style="right:19.9px;top:198.7px;font-size:12px;line-height:20px;letter-spacing:.1px;color:#00cccc">For pickup</div>
<div class="hline" style="top:229.5px"></div><div class="abs" style="left:19.8px;top:241.2px;width:38px;height:38px;border-radius:50%;background:#00cccc"><svg style="position:absolute;left:12px;top:12px" width="14" height="14" viewBox="0 0 24 24" fill="none" stroke="#fff" stroke-width="3" stroke-linecap="round" stroke-linejoin="round"><polyline points="20 6 9 17 4 12"/></svg></div>
<div class="abs nw b c2" style="left:68.0px;top:239.9px;font-size:13px;line-height:20px;letter-spacing:.1px">Payment from #023328</div>
<div class="abs nw c3" style="left:68.0px;top:259.4px;font-size:12px;line-height:20px;letter-spacing:.17px">Mar 20, 2019, 10:30pm</div>
<div class="abs nw b c2" style="right:19.9px;top:239.9px;font-size:13px;line-height:20px;letter-spacing:.25px">+ $129.50</div>
<div class="abs nw" style="right:19.9px;top:259.4px;font-size:12px;line-height:20px;letter-spacing:.1px;color:#10b759">Completed</div>
<div class="hline" style="top:290.2px"></div><div class="abs" style="left:19.8px;top:301.9px;width:38px;height:38px;border-radius:50%;background:#b4bdce"><svg style="position:absolute;left:12px;top:12px" width="14" height="14" viewBox="0 0 24 24" fill="none" stroke="#fff" stroke-width="3" stroke-linecap="round" stroke-linejoin="round"><line x1="18" y1="6" x2="6" y2="18"/><line x1="6" y1="6" x2="18" y2="18"/></svg></div>
<div class="abs nw b c2" style="left:68.0px;top:300.7px;font-size:13px;line-height:20px;letter-spacing:.1px">Payment failed from #087651</div>
<div class="abs nw c3" style="left:68.0px;top:320.2px;font-size:12px;line-height:20px;letter-spacing:.17px">Mar 19, 2019, 12:54pm</div>
<div class="abs nw b c2" style="right:19.9px;top:300.7px;font-size:13px;line-height:20px;letter-spacing:.25px">$150.00</div>
<div class="abs nw" style="right:19.9px;top:320.2px;font-size:12px;line-height:20px;letter-spacing:.1px;color:#dc3545">Declined</div>
<div class="hline" style="top:351.0px"></div>
  <div class="abs nw c3" style="left:0;right:0;text-align:center;top:362.7px;font-size:12.4px;line-height:20px;letter-spacing:.15px">View All Transactions<svg width="9" height="11" viewBox="0 0 9 11" style="margin-left:8px;vertical-align:-1.5px"><path d="M4.500 1v8.500M1 6.500l3.500 3.500 3.500-3.500" fill="none" stroke="#8392a5" stroke-width="1.2"/></svg></div>
</div>

<div class="card" style="left:413.3px;top:1251.9px;width:373.3px;height:396.8px;overflow:hidden">
  <div class="ch" style="height:49px"><div class="ttl" style="top:13.5px">New Customers</div><svg class="abs" style="left:324.5px;top:17px" width="14" height="14" viewBox="0 0 24 24" fill="none" stroke="#70819a" stroke-width="2.7" stroke-linecap="round" stroke-linejoin="round"><polyline points="23 4 23 10 17 10"/><path d="M20.490 15a9 9 0 1 1-2.120-9.360L23 10"/></svg><svg class="abs" style="left:348.57500000000005px;top:17px" width="4" height="14" viewBox="0 0 4 14"><circle cx="2" cy="2.500" r="1.350" fill="#70819a"/><circle cx="2" cy="7" r="1.350" fill="#70819a"/><circle cx="2" cy="11.500" r="1.350" fill="#70819a"/></svg></div>
  <div class="abs b" style="left:20.1px;top:58.6px;width:38px;height:38px;border-radius:50%;background:#7987a1;color:#fff;text-align:center;line-height:38px;font-size:15px">S</div>
<div class="abs nw b c2" style="left:68.4px;top:57.7px;font-size:12.8px;line-height:20px;letter-spacing:-.05px">Socrates Itumay</div>
<div class="abs nw c3" style="left:68.4px;top:77.2px;font-size:12px;line-height:20px;letter-spacing:.3px">Customer ID#00222</div>
<svg class="abs" style="left:277.3px;top:70.2px" width="17.5" height="17.5" viewBox="0 0 24 24" fill="none" stroke="#63728c" stroke-width="1.9" stroke-linecap="round" stroke-linejoin="round"><rect x="2" y="4" width="20" height="16" rx="2"/><polyline points="22,6.500 12,13.500 2,6.500"/></svg><svg class="abs" style="left:306.0px;top:70.2px" width="17.5" height="17.5" viewBox="0 0 24 24" fill="none" stroke="#63728c" stroke-width="1.9" stroke-linecap="round" stroke-linejoin="round"><circle cx="12" cy="12" r="10"/><line x1="4.930" y1="4.930" x2="19.070" y2="19.070"/></svg><svg class="abs" style="left:333.8px;top:70.2px" width="17.5" height="17.5" viewBox="0 0 24 24" fill="none" stroke="#63728c" stroke-width="1.9" stroke-linecap="round" stroke-linejoin="round"><path d="M20 21v-2a4 4 0 0 0-4-4H8a4 4 0 0 0-4 4v2"/><circle cx="12" cy="7" r="4"/></svg>
<div class="hline" style="top:107.5px"></div><div class="abs" style="left:20.1px;top:118.5px;width:38px;height:38px"><svg width="38" height="38" viewBox="0 0 38 38"><defs><clipPath id="pm"><circle cx="19" cy="19" r="19"/></clipPath></defs><g clip-path="url(#pm)"><rect width="38" height="38" fill="#1b1515"/><rect x="26" y="0" width="12" height="38" fill="#3a2a28"/><ellipse cx="19.500" cy="21" rx="11.500" ry="16" fill="#b0897b"/><path d="M7 14c1-8 7-11 12.500-11S31 6 32 14c-3-4-7-5.500-12.500-5.500S10 10 7 14z" fill="#5b4d49"/><path d="M13 19h4.500M21.500 19H26" stroke="#4a3a38" stroke-width="1.600"/><path d="M15 29.500h9" stroke="#8a6459" stroke-width="1.400"/><path d="M8 33l5-3 2 8H6z" fill="#e8e4e4"/><path d="M30 33l-5-3-2 8h9z" fill="#5a4340"/></g></svg></div>
<div class="abs nw b c2" style="left:68.4px;top:117.6px;font-size:12.8px;line-height:20px;letter-spacing:-.05px">Reynante Labares</div>
<div class="abs nw c3" style="left:68.4px;top:137.1px;font-size:12px;line-height:20px;letter-spacing:.3px">Customer ID#00221</div>
<svg class="abs" style="left:277.3px;top:130.1px" width="17.5" height="17.5" viewBox="0 0 24 24" fill="none" stroke="#63728c" stroke-width="1.9" stroke-linecap="round" stroke-linejoin="round"><rect x="2" y="4" width="20" height="16" rx="2"/><polyline points="22,6.500 12,13.500 2,6.500"/></svg><svg class="abs" style="left:306.0px;top:130.1px" width="17.5" height="17.5" viewBox="0 0 24 24" fill="none" stroke="#63728c" stroke-width="1.9" stroke-linecap="round" stroke-linejoin="round"><circle cx="12" cy="12" r="10"/><line x1="4.930" y1="4.930" x2="19.070" y2="19.070"/></svg><svg class="abs" style="left:333.8px;top:130.1px" width="17.5" height="17.5" viewBox="0 0 24 24" fill="none" stroke="#63728c" stroke-width="1.9" stroke-linecap="round" stroke-linejoin="round"><path d="M20 21v-2a4 4 0 0 0-4-4H8a4 4 0 0 0-4 4v2"/><circle cx="12" cy="7" r="4"/></svg>
<div class="hline" style="top:167.6px"></div><div class="abs" style="left:20.1px;top:178.4px;width:38px;height:38px"><svg width="38" height="38" viewBox="0 0 38 38"><defs><clipPath id="pf"><circle cx="19" cy="19" r="19"/></clipPath></defs><g clip-path="url(#pf)"><rect width="38" height="38" fill="#5b718c"/><circle cx="30" cy="9" r="4" fill="#a9bad0"/><circle cx="7" cy="26" r="5" fill="#8194ac"/><circle cx="9" cy="9" r="5" fill="#44586f"/><path d="M10 12c1-7 6-9 10-8 6 1 8 7 8 13 0 6 1 9 2 12H9c2-5 0-11 1-17z" fill="#231c20"/><ellipse cx="17" cy="17.500" rx="5.200" ry="6.200" fill="#edc9c0"/><path d="M11 13c2-5 8-6 12-2-3 .5-8 1-12 2z" fill="#231c20"/><path d="M8 38c1-6 4-9 10-9s10 3 12 9z" fill="#1e2a3f"/><path d="M18 38l2-7 4 1 1 6z" fill="#f2f2f4"/></g></svg></div>
<div class="abs nw b c2" style="left:68.4px;top:177.5px;font-size:12.8px;line-height:20px;letter-spacing:-.05px">Marianne Audrey</div>
<div class="abs nw c3" style="left:68.4px;top:197.0px;font-size:12px;line-height:20px;letter-spacing:.3px">Customer ID#00220</div>
<svg class="abs" style="left:277.3px;top:190.0px" width="17.5" height="17.5" viewBox="0 0 24 24" fill="none" stroke="#63728c" stroke-width="1.9" stroke-linecap="round" stroke-linejoin="round"><rect x="2" y="4" width="20" height="16" rx="2"/><polyline points="22,6.500 12,13.500 2,6.500"/></svg><svg class="abs" style="left:306.0px;top:190.0px" width="17.5" height="17.5" viewBox="0 0 24 24" fill="none" stroke="#63728c" stroke-width="1.9" stroke-linecap="round" stroke-linejoin="round"><circle cx="12" cy="12" r="10"/><line x1="4.930" y1="4.930" x2="19.070" y2="19.070"/></svg><svg class="abs" style="left:333.8px;top:190.0px" width="17.5" height="17.5" viewBox="0 0 24 24" fill="none" stroke="#63728c" stroke-width="1.9" stroke-linecap="round" stroke-linejoin="round"><path d="M20 21v-2a4 4 0 0 0-4-4H8a4 4 0 0 0-4 4v2"/><circle cx="12" cy="7" r="4"/></svg>
<div class="hline" style="top:227.7px"></div><div class="abs b" style="left:20.1px;top:238.4px;width:38px;height:38px;border-radius:50%;background:#ada3fd;color:#fff;text-align:center;line-height:38px;font-size:15px">O</div>
<div class="abs nw b c2" style="left:68.4px;top:237.5px;font-size:12.8px;line-height:20px;letter-spacing:-.05px">Owen Bongcaras</div>
<div class="abs nw c3" style="left:68.4px;top:257.0px;font-size:12px;line-height:20px;letter-spacing:.3px">Customer ID#00219</div>
<svg class="abs" style="left:277.3px;top:249.9px" width="17.5" height="17.5" viewBox="0 0 24 24" fill="none" stroke="#63728c" stroke-width="1.9" stroke-linecap="round" stroke-linejoin="round"><rect x="2" y="4" width="20" height="16" rx="2"/><polyline points="22,6.500 12,13.500 2,6.500"/></svg><svg class="abs" style="left:306.0px;top:249.9px" width="17.5" height="17.5" viewBox="0 0 24 24" fill="none" stroke="#63728c" stroke-width="1.9" stroke-linecap="round" stroke-linejoin="round"><circle cx="12" cy="12" r="10"/><line x1="4.930" y1="4.930" x2="19.070" y2="19.070"/></svg><svg class="abs" style="left:333.8px;top:249.9px" width="17.5" height="17.5" viewBox="0 0 24 24" fill="none" stroke="#63728c" stroke-width="1.9" stroke-linecap="round" stroke-linejoin="round"><path d="M20 21v-2a4 4 0 0 0-4-4H8a4 4 0 0 0-4 4v2"/><circle cx="12" cy="7" r="4"/></svg>
<div class="hline" style="top:287.8px"></div><div class="abs b" style="left:20.1px;top:298.3px;width:38px;height:38px;border-radius:50%;background:#7fb7fa;color:#fff;text-align:center;line-height:38px;font-size:15px">K</div>
<div class="abs nw b c2" style="left:68.4px;top:297.4px;font-size:12.8px;line-height:20px;letter-spacing:-.05px">Kirby Avendula</div>
<div class="abs nw c3" style="left:68.4px;top:316.9px;font-size:12px;line-height:20px;letter-spacing:.3px">Customer ID#00218</div>
<svg class="abs" style="left:277.3px;top:309.8px" width="17.5" height="17.5" viewBox="0 0 24 24" fill="none" stroke="#63728c" stroke-width="1.9" stroke-linecap="round" stroke-linejoin="round"><rect x="2" y="4" width="20" height="16" rx="2"/><polyline points="22,6.500 12,13.500 2,6.500"/></svg><svg class="abs" style="left:306.0px;top:309.8px" width="17.5" height="17.5" viewBox="0 0 24 24" fill="none" stroke="#63728c" stroke-width="1.9" stroke-linecap="round" stroke-linejoin="round"><circle cx="12" cy="12" r="10"/><line x1="4.930" y1="4.930" x2="19.070" y2="19.070"/></svg><svg class="abs" style="left:333.8px;top:309.8px" width="17.5" height="17.5" viewBox="0 0 24 24" fill="none" stroke="#63728c" stroke-width="1.9" stroke-linecap="round" stroke-linejoin="round"><path d="M20 21v-2a4 4 0 0 0-4-4H8a4 4 0 0 0-4 4v2"/><circle cx="12" cy="7" r="4"/></svg>
<div class="hline" style="top:347.8px"></div>
  <div class="abs nw c3" style="left:0;right:0;text-align:center;top:358.7px;font-size:12.4px;line-height:20px;letter-spacing:.15px">View More Customers<svg width="9" height="11" viewBox="0 0 9 11" style="margin-left:8px;vertical-align:-1.5px"><path d="M4.500 1v8.500M1 6.500l3.500 3.500 3.500-3.500" fill="none" stroke="#8392a5" stroke-width="1.2"/></svg></div>
</div>

<div class="card" style="left:796.7px;top:1251.9px;width:373.3px;height:396.8px;overflow:hidden">
  <div class="ch" style="height:49px"><div class="ttl" style="top:13.5px">Real-Time Sales</div>
    <div class="dot" style="left:210.3px;top:20px;width:9px;height:9px;background:#66a4fb"></div><div class="lg" style="left:225.5px;top:18px;font-size:9.9px;letter-spacing:.1px">Today</div>
    <div class="dot" style="left:277.1px;top:20px;width:9px;height:9px;background:#d1e6fa"></div><div class="lg" style="left:292.2px;top:18px;font-size:9.9px;letter-spacing:.1px">Yesterday</div>
  </div>
  <div class="h3" style="left:20.3px;top:66.0px;font-size:21px;letter-spacing:-.1px">$150,200</div>
  <div class="abs nw green" style="left:112.8px;top:76.8px;font-size:10.4px;line-height:14px;letter-spacing:-.3px;-webkit-text-stroke:.3px #10b759"><svg width="7" height="9" viewBox="0 0 7 9" style="margin-right:1.5px;vertical-align:-.5px"><path d="M3.500 8.500V1M1 3.500l2.500-2.500 2.500 2.500" fill="none" stroke="#10b759" stroke-width="1.2"/></svg>0.20%</div>
  <div class="cap c3" style="left:20.3px;top:105.1px;font-size:10.6px;letter-spacing:.2px;-webkit-text-stroke:.5px #8392a5">Total Sales</div>
  <div class="h3" style="left:201.0px;top:66.0px;font-size:21px;letter-spacing:-.1px">$21,880</div>
  <div class="abs nw red" style="left:281.6px;top:76.8px;font-size:10.4px;line-height:14px;letter-spacing:-.3px;-webkit-text-stroke:.3px #dc3545"><svg width="7" height="9" viewBox="0 0 7 9" style="margin-right:1.5px;vertical-align:-.5px"><path d="M3.500 .5V8M1 5.500l2.500 2.500 2.500-2.500" fill="none" stroke="#dc3545" stroke-width="1.2"/></svg>1.04%</div>
  <div class="cap c3" style="left:201.0px;top:105.1px;font-size:10.6px;letter-spacing:.2px;-webkit-text-stroke:.5px #8392a5">Avg. Sales Per Day</div>
  <svg class="abs" style="left:-1px;top:142.1px" width="373.3" height="247.5" viewBox="531.1 930 248.9 165"><line x1="545.0" y1="939.8" x2="545.0" y2="1075.5" stroke="rgba(72,94,144,.12)" stroke-width=".7"/><line x1="598.8" y1="939.8" x2="598.8" y2="1075.5" stroke="rgba(72,94,144,.12)" stroke-width=".7"/><line x1="652.5" y1="939.8" x2="652.5" y2="1075.5" stroke="rgba(72,94,144,.12)" stroke-width=".7"/><line x1="706.3" y1="939.8" x2="706.3" y2="1075.5" stroke="rgba(72,94,144,.12)" stroke-width=".7"/><line x1="760.1" y1="939.8" x2="760.1" y2="1075.5" stroke="rgba(72,94,144,.12)" stroke-width=".7"/><line x1="545.0" y1="1073.7" x2="760.1" y2="1073.7" stroke="rgba(72,94,144,.12)" stroke-width=".7"/><line x1="545.0" y1="939.8" x2="545.0" y2="1075.500" stroke="rgba(72,94,144,.35)" stroke-width=".7"/><rect x="545.0" y="943.80" width="53.8" height="7.6" fill="#66a4fb"/><rect x="545.0" y="952.20" width="26.9" height="7.3" fill="#d1e6fa"/><rect x="545.0" y="965.87" width="161.3" height="7.6" fill="#66a4fb"/><rect x="545.0" y="974.27" width="107.6" height="7.3" fill="#d1e6fa"/><rect x="545.0" y="987.94" width="134.4" height="7.6" fill="#66a4fb"/><rect x="545.0" y="996.34" width="80.7" height="7.3" fill="#d1e6fa"/><rect x="545.0" y="1010.01" width="121.0" height="7.6" fill="#66a4fb"/><rect x="545.0" y="1018.41" width="107.6" height="7.3" fill="#d1e6fa"/><rect x="545.0" y="1032.08" width="134.4" height="7.6" fill="#66a4fb"/><rect x="545.0" y="1040.48" width="147.9" height="7.3" fill="#d1e6fa"/><rect x="545.0" y="1054.15" width="161.3" height="7.6" fill="#66a4fb"/><rect x="545.0" y="1062.55" width="67.2" height="7.3" fill="#d1e6fa"/></svg>
  <div class="abs nw c3" style="left:-0.2px;width:40px;text-align:center;top:364.6px;font-size:10.4px;line-height:14px">0</div><div class="abs nw c3" style="left:80.5px;width:40px;text-align:center;top:364.6px;font-size:10.4px;line-height:14px">20</div><div class="abs nw c3" style="left:161.2px;width:40px;text-align:center;top:364.6px;font-size:10.4px;line-height:14px">40</div><div class="abs nw c3" style="left:241.8px;width:40px;text-align:center;top:364.6px;font-size:10.4px;line-height:14px">60</div><div class="abs nw c3" style="left:322.5px;width:40px;text-align:center;top:364.6px;font-size:10.4px;line-height:14px">80</div>
</div>


</div>
</body>
</html>
